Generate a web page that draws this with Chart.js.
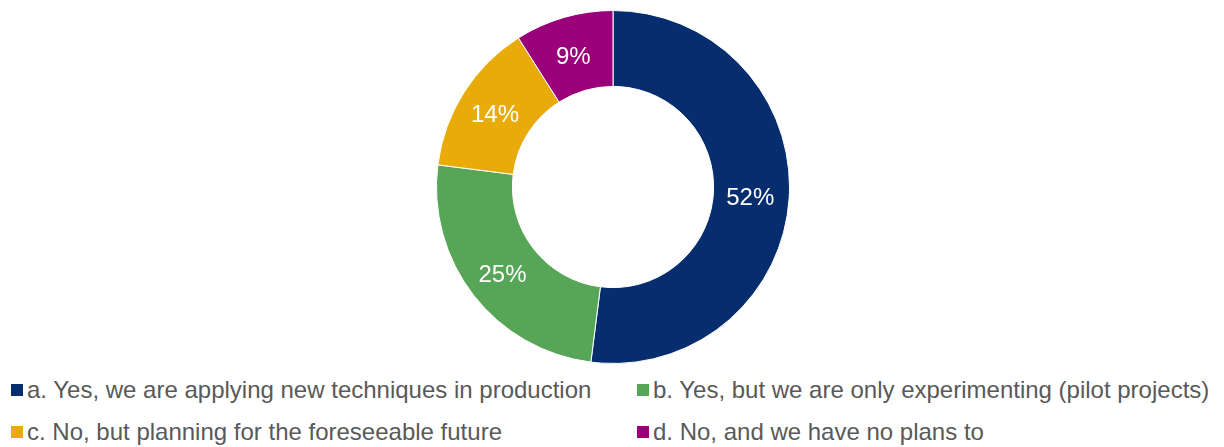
<!DOCTYPE html>
<html>
<head>
<meta charset="utf-8">
<script src="https://cdn.jsdelivr.net/npm/chart.js@4"></script>
<style>
  html, body { margin: 0; padding: 0; background: #fff; }
  body { width: 1224px; height: 447px; position: relative; overflow: hidden; font-family: "Liberation Sans", Arial, sans-serif; }
  #wrap { position: absolute; left: 436px; top: 10px; width: 354px; height: 354px; }
  .leg { position: absolute; color: #595959; font-size: 24px; white-space: nowrap; line-height: 24px; }
  .sw { position: absolute; width: 12px; height: 12px; }
</style>
</head>
<body>
<div id="wrap"><canvas id="c"></canvas></div>
<div id="legend"></div>
<script>
const categories = [
  "a. Yes, we are applying new techniques in production",
  "b. Yes, but we are only experimenting (pilot projects)",
  "c. No, but planning for the foreseeable future",
  "d. No, and we have no plans to"
];
const values = [52, 25, 14, 9];
const colors = ["#062D6D", "#57A557", "#E8AB09", "#990079"];

const labelPlugin = {
  id: 'sliceLabels',
  afterDatasetsDraw(chart) {
    const ctx = chart.ctx;
    const meta = chart.getDatasetMeta(0);
    ctx.save();
    ctx.fillStyle = '#ffffff';
    ctx.font = '24px "Liberation Sans", Arial, sans-serif';
    ctx.textAlign = 'center';
    ctx.textBaseline = 'middle';
    meta.data.forEach((arc, i) => {
      const p = arc.getCenterPoint();
      ctx.fillText(values[i] + '%', p.x - 1, p.y + 3);
    });
    ctx.restore();
  }
};

new Chart(document.getElementById('c'), {
  type: 'doughnut',
  data: {
    labels: categories,
    datasets: [{
      data: values,
      backgroundColor: colors,
      borderColor: '#ffffff',
      borderWidth: 1,
      hoverOffset: 0
    }]
  },
  options: {
    responsive: true,
    maintainAspectRatio: false,
    animation: false,
    cutout: '57%',
    layout: { padding: 0 },
    plugins: { legend: { display: false }, tooltip: { enabled: false } }
  },
  plugins: [labelPlugin]
});

// [swatchX, swatchY, textX, textTop]
const legendPos = [[11, 384, 27, 378], [637, 384, 653, 378], [11, 426, 27, 420], [637, 426, 653, 420]];
const legend = document.getElementById('legend');
categories.forEach((c, i) => {
  const p = legendPos[i];
  const s = document.createElement('div');
  s.className = 'sw';
  s.style.left = p[0] + 'px';
  s.style.top = p[1] + 'px';
  s.style.background = colors[i];
  legend.appendChild(s);
  const d = document.createElement('div');
  d.className = 'leg';
  d.style.left = p[2] + 'px';
  d.style.top = p[3] + 'px';
  d.textContent = c;
  legend.appendChild(d);
});
</script>
</body>
</html>
